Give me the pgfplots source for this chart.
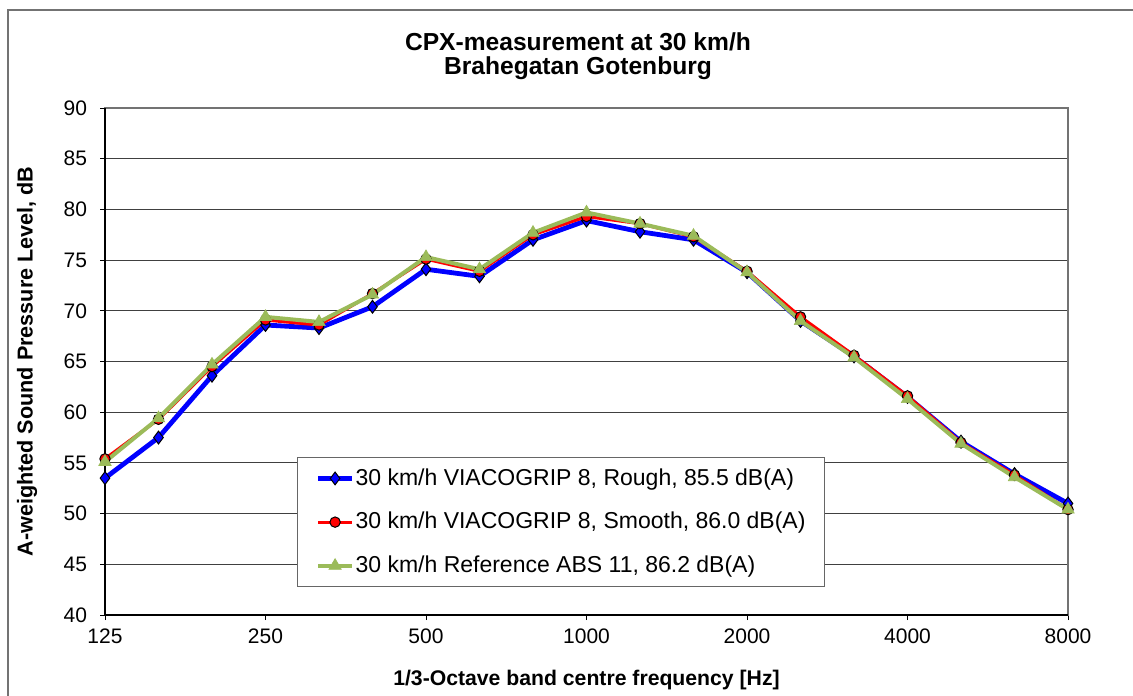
\documentclass[border=0pt]{standalone}
\usepackage{pgfplots}
\pgfplotsset{compat=1.18}
\usepackage{fontspec}
\setmainfont{Liberation Sans}
\definecolor{cblue}{RGB}{0,0,255}
\definecolor{cred}{RGB}{255,0,0}
\definecolor{cgreen}{RGB}{155,187,89}
\pgfplotstableread{
i  rough smooth ref
0  53.5 55.4 55.1
1  57.5 59.3 59.4
2  63.6 64.5 64.7
3  68.6 69.1 69.4
4  68.3 68.6 68.9
5  70.4 71.7 71.6
6  74.1 75.1 75.3
7  73.4 73.9 74.1
8  77.0 77.5 77.7
9  78.9 79.3 79.7
10 77.8 78.6 78.6
11 77.0 77.3 77.4
12 73.8 73.9 73.8
13 69.0 69.4 69.0
14 65.5 65.6 65.4
15 61.5 61.6 61.3
16 57.1 57.0 56.9
17 53.9 53.8 53.6
18 51.0 50.4 50.4
}\data
\begin{document}
\begin{tikzpicture}
\useasboundingbox (0,0) rectangle (566.5pt,-347.5pt);
\begin{scope}[x=0.5pt,y=-0.5pt]
\draw[black!55, line width=0.7pt] (8,720) -- (8,10) -- (1150,10);
\node[font=\bfseries\fontsize{12.3}{14}\selectfont, anchor=base, inner sep=0pt] at (578,51) {CPX-measurement at 30 km/h};
\node[font=\bfseries\fontsize{12.3}{14}\selectfont, anchor=base, inner sep=0pt] at (578,75) {Brahegatan Gotenburg};
\end{scope}
\begin{axis}[
  at={(52.5pt,-307.5pt)}, anchor=south west,
  scale only axis, width=481.5pt, height=253.5pt,
  xmin=0, xmax=18, ymin=40, ymax=90,
  xtick={0,3,...,18}, xticklabels={125,250,500,1000,2000,4000,8000},
  ytick={40,45,...,90},
  xtick pos=bottom, ytick pos=left,
  tick align=outside, major tick length=2.5pt,
  tick style={black, line width=0.5pt},
  ymajorgrids, major grid style={black!75, line width=0.5pt},
  axis line style={black!55, line width=0.6pt},
  ticklabel style={font=\fontsize{10.5}{12}\selectfont},
  /pgf/number format/assume math mode=true,
  xticklabel style={yshift=-1pt},
  yticklabel style={xshift=-3pt},
  xlabel={1/3-Octave band centre frequency [Hz]},
  ylabel={A-weighted Sound Pressure Level, dB},
  xlabel style={font=\bfseries\fontsize{10.6}{12}\selectfont, at={(axis description cs:0.5,0)}, anchor=center, yshift=-32.5pt},
  ylabel style={font=\bfseries\fontsize{10.8}{12}\selectfont, at={(axis description cs:-0.081,0.5)}, anchor=center},
  clip=false,
  legend style={at={(0.1994,0.3116)}, anchor=north west, draw=black!60, line width=0.6pt,
    font=\fontsize{11.5}{13}\selectfont, inner xsep=9pt, inner ysep=3.5pt, row sep=8pt,
    nodes={inner xsep=0.5pt}},
  legend cell align=left,
]
\draw[black, line width=0.6pt] (rel axis cs:0,1) -- (rel axis cs:0,0) -- (rel axis cs:1,0);
\addplot[cblue, line width=2.4pt, mark=diamond*, mark size=3.2pt, mark options={fill=cblue, draw=black, line width=0.5pt}] table[x=i, y=rough] {\data};
\addlegendentry{30 km/h VIACOGRIP 8, Rough, 85.5 dB(A)}
\addplot[cred, line width=1.6pt, mark=*, mark size=2.6pt, mark options={fill=cred, draw=black, line width=0.5pt}] table[x=i, y=smooth] {\data};
\addlegendentry{30 km/h VIACOGRIP 8, Smooth, 86.0 dB(A)}
\addplot[cgreen, line width=2pt, mark=triangle*, mark size=3.6pt, mark options={fill=cgreen, draw=cgreen, line width=0.3pt}] table[x=i, y=ref] {\data};
\addlegendentry{30 km/h Reference ABS 11, 86.2 dB(A)}
\end{axis}
\end{tikzpicture}
\end{document}
